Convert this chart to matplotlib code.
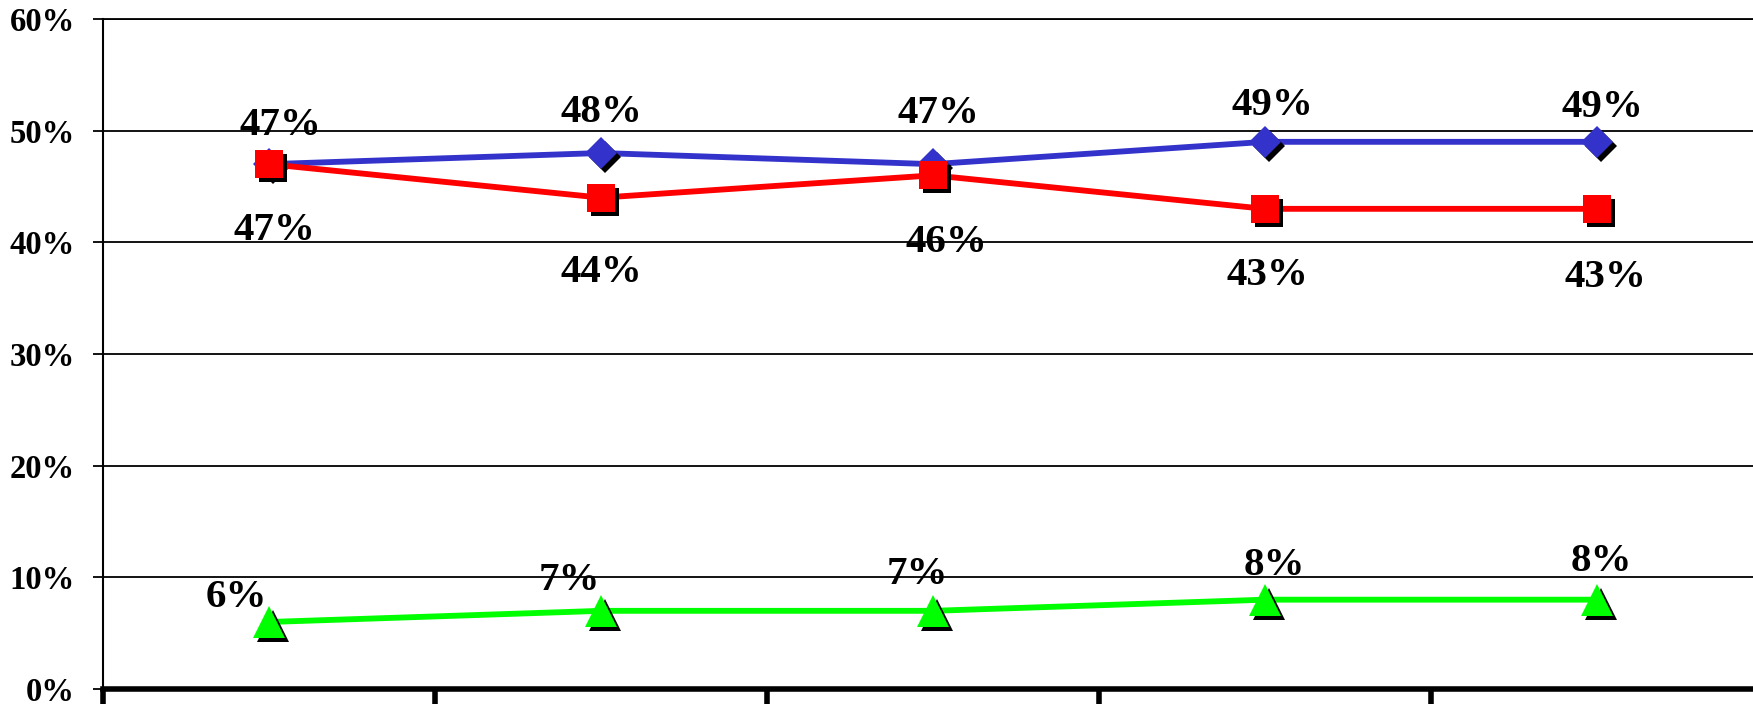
import matplotlib
matplotlib.use("Agg")
import matplotlib.pyplot as plt
import matplotlib.transforms as mtransforms
from matplotlib.ticker import FuncFormatter

plt.rcParams['font.family'] = ['Liberation Serif', 'DejaVu Serif']

# series values (fraction)
positions = [0, 1, 2, 3, 4]
blue_vals = [0.47, 0.48, 0.47, 0.49, 0.49]
red_vals = [0.47, 0.44, 0.46, 0.43, 0.43]
green_vals = [0.06, 0.07, 0.07, 0.08, 0.08]
y_ticks = [0.0, 0.1, 0.2, 0.3, 0.4, 0.5, 0.6]

# label offsets in pixels (dx, dy of baseline from point)
blue_offsets = [(11, 29), (0, 31), (5, 41), (7, 27), (5, 25)]
red_offsets = [(5, -76), (0, -84), (13, -77), (2, -76), (8, -78)]
green_offsets = [(-33, 15), (-32, 21), (-16, 27), (9, 25), (4, 29)]

fig = plt.figure(figsize=(17.53, 7.04), dpi=100)
ax = fig.add_axes([103 / 1753, 15 / 704, 1660 / 1753, 670 / 704])

shadow = ax.transData + mtransforms.ScaledTranslation(4 / 100, -4 / 100, fig.dpi_scale_trans)

series = [
    (blue_vals, '#3333CC', 'D', 16.5, blue_offsets),
    (red_vals, '#FF0000', 's', 20, red_offsets),
    (green_vals, '#00FF00', '^', 23, green_offsets),
]

z = 3
for vals, color, marker, ms, offs in series:
    ax.plot(positions, vals, color=color, lw=4.2, zorder=z, solid_capstyle='butt')
    ax.plot(positions, vals, ls='none', marker=marker, ms=ms, color='black',
            mew=0, transform=shadow, zorder=z + 0.1)
    ax.plot(positions, vals, ls='none', marker=marker, ms=ms, color=color,
            mew=0, zorder=z + 0.2)
    for x, v, (dx, dy) in zip(positions, vals, offs):
        ax.annotate(f"{round(v * 100)}%", (x, v), xytext=(dx, dy),
                    textcoords='offset pixels', ha='center', va='baseline',
                    fontsize=29.5, fontweight='bold', color='black', zorder=10)
    z += 1

ax.set_xlim(-0.5, 4.5)
ax.set_ylim(0, 0.6)
ax.set_yticks(y_ticks)
ax.yaxis.set_major_formatter(FuncFormatter(lambda v, p: f"{round(v * 100)}%"))
ax.set_xticks([p - 0.5 for p in positions] + [4.5])
ax.set_xticklabels([])

ax.grid(axis='y', color='black', lw=1.3, zorder=1)
ax.set_axisbelow(True)
ax.spines['right'].set_visible(False)
ax.spines['top'].set_linewidth(1.3)
ax.spines['left'].set_linewidth(1.5)
ax.spines['bottom'].set_linewidth(4)
ax.spines['bottom'].set_zorder(20)

ax.tick_params(axis='y', direction='out', length=7.2, width=1.3, pad=13,
               labelsize=23.5)
ax.tick_params(axis='x', direction='out', length=20, width=4)
for lab in ax.get_yticklabels():
    lab.set_fontweight('bold')

fig.savefig('out.png', dpi=100)
